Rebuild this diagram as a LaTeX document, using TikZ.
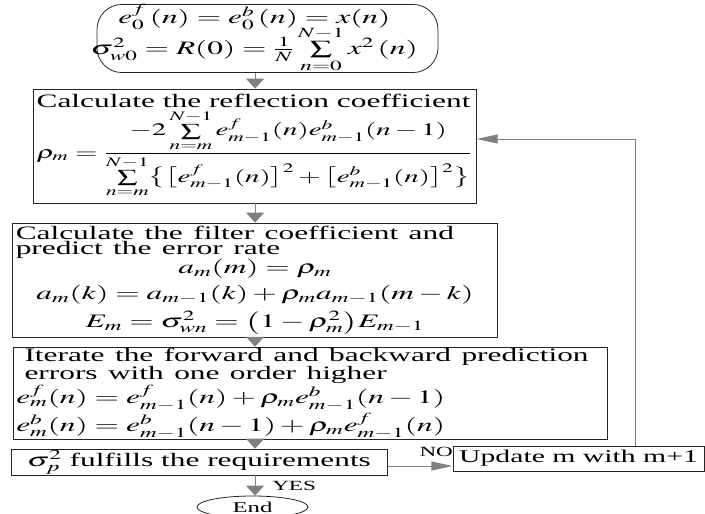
\documentclass[tikz,border=0pt]{standalone}
\usepackage{amsmath}
\usepackage{mathptmx}
\usepackage[no-math]{fontspec}
\setmainfont{Liberation Serif}
\usetikzlibrary{arrows.meta,shapes.geometric}

\begin{document}
\begin{tikzpicture}[x=0.60606pt,y=-1pt,xscale=1.65,
  every node/.style={font=\fontsize{19}{15}\selectfont,transform shape},
  box/.style={draw=black!85,line width=0.8pt,inner xsep=2pt,inner ysep=1pt},
  term/.style={draw=black!85,line width=0.8pt,rounded corners=25pt,inner sep=0pt},
  varr/.style={draw=black!50,line width=0.9pt,-{Triangle[length=10pt,width=18pt]}},
  harr/.style={draw=black!50,line width=0.9pt,-{Triangle[length=21pt,width=9pt]}},
  lbl/.style={font=\fontsize{14}{14}\selectfont,inner sep=1pt}]
\useasboundingbox (0,0) rectangle (705,514);
\clip (0,0) rectangle (705,514);
\node[term,minimum width=206.7pt,minimum height=57pt] (start) at (267.5,38.5)
  {\makebox[206pt][l]{\makebox[190pt][c]{$\begin{array}{@{}c@{}}e_0^f\,(n)=e_0^b\,(n)=x(n)\\[-3pt]
   \sigma_{w0}^2=R(0)=\frac{1}{N}\sum\limits_{n=0}^{N-1}x^2\,(n)\end{array}$}}};
\node[box,align=left,minimum width=268.5pt,minimum height=114pt] (refl) at (254.5,146)
  {Calculate the reflection coefficient\\[1pt]
   {\fontsize{17.5}{15}\selectfont$\rho_m=\dfrac{-2\sum\limits_{n=m}^{N-1}e_{m-1}^f(n)e_{m-1}^b(n-1)}
   {\sum\limits_{n=m}^{N-1}\bigl\{\bigl[e_{m-1}^f(n)\bigr]^2+\bigl[e_{m-1}^b(n)\bigr]^2\bigr\}}$}};
\node[box,align=left,text width=290pt,minimum height=114pt] (filt) at (255,280)
  {Calculate the filter coefficient and\\predict the error rate\par
   {\centering $a_m(m)=\rho_m$\\[6pt]
   $a_m(k)=a_{m-1}(k)+\rho_m a_{m-1}(m-k)$\\[6pt]
   $E_m=\sigma_{wn}^2=\bigl(1-\rho_m^2\bigr)E_{m-1}$\par}};
\node[box,align=left,text width=356pt,minimum height=83pt] (iter) at (310,393.5)
  {\hspace*{5pt}Iterate the forward and backward prediction\\
   \hspace*{5pt}errors with one order higher\\
   $e_m^f(n)=e_{m-1}^f(n)+\rho_m e_{m-1}^b(n-1)$\\[1pt]
   $e_m^b(n)=e_{m-1}^b(n-1)+\rho_m e_{m-1}^f(n)$};
\node[box,minimum width=227.9pt,minimum height=24pt] (cond) at (199,462)
  {$\sigma_p^2$ fulfills the requirements};
\node[box,minimum width=152.1pt,minimum height=25pt,font=\fontsize{18}{15}\selectfont] (upd) at (578.5,458.5)
  {Update m with m+1};
\node[draw=black!85,line width=0.8pt,ellipse,inner sep=0pt,minimum width=67.3pt,
  minimum height=22pt,font=\fontsize{15}{15}\selectfont] (fin) at (252.5,507) {End};
\coordinate (ax) at (255,0);
\coordinate (back) at (635,139);
\draw[varr] (start.south -| ax) -- (refl.north -| ax);
\draw[varr] (refl.south -| ax) -- (filt.north -| ax);
\draw[varr] (filt.south -| ax) -- (iter.north -| ax);
\draw[varr] (iter.south -| ax) -- (cond.north -| ax);
\draw[varr] (cond.south -| ax) -- node[lbl,anchor=west,xshift=9pt]{YES} (fin.north -| ax);
\draw[harr] ([yshift=-4pt]cond.east) -- node[lbl,pos=0.75,anchor=south,yshift=8pt]{NO}
  ([yshift=-4pt]cond.east -| upd.west);
\draw[harr] (upd.north -| back) -- (back) -- (refl.east |- back);
\end{tikzpicture}
\end{document}
